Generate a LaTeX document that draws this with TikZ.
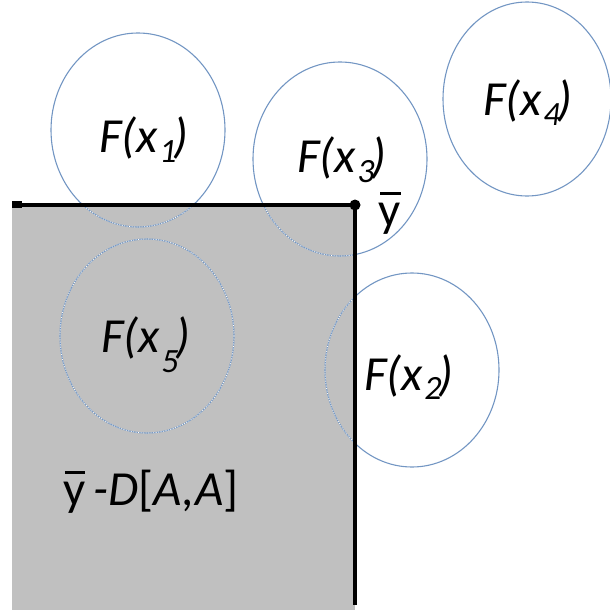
\documentclass[tikz,border=0pt]{standalone}
\usepackage{fontspec}
\setmainfont{Carlito}
\usetikzlibrary{shapes.geometric}
\definecolor{rgray}{RGB}{192,192,192}
\definecolor{cblue}{RGB}{115,150,195}
\newcommand{\Fx}[2][-0.2em]{\textit{F(x\kern0.03em\raisebox{#1}{\fontsize{34}{36}\selectfont #2}\kern-0.06em)}}
\newcommand{\ybar}{\makebox[0pt][l]{\kern0.03em\raisebox{0.64em}{\rule{0.42em}{0.065em}}}y}
\begin{document}
\begin{tikzpicture}[x=1pt,y=-1pt,
  ell/.style={ellipse, draw=cblue, line width=1.1pt, minimum width=174pt, minimum height=194pt, inner sep=0pt},
  lbl/.style={font=\fontsize{49}{52}\selectfont, inner sep=0pt},
  edgeline/.style={line width=3.5pt, black}]
\useasboundingbox (0,0) rectangle (610,610);
\fill[rgray] (12,205) rectangle (355,610);
\node[ell] (e1) at (138,130) {};
\node[ell] (e3) at (340,159) {};
\node[ell, minimum width=168pt] (e4) at (527,99) {};
\node[ell] (e5) at (147,336) {};
\node[ell] (e2) at (412,370) {};
\begin{scope}
  \clip (12,205) rectangle (355,610);
  \foreach \c in {e1,e3,e5,e2}{
    \draw[white, line width=0.7pt, dash pattern=on 1pt off 1.5pt] (\c.center) ellipse [x radius=87, y radius=97];
  }
\end{scope}
\node[lbl] (t1) at (144,140) {\Fx{1}};
\node[lbl] (t3) at (342,160) {\Fx{3}};
\node[lbl] (t4) at (528,103) {\Fx{4}};
\node[lbl] (t5) at (146,345) {\Fx[-0.4em]{5}};
\node[lbl] (t2) at (409,377) {\Fx{2}};
\coordinate (tl) at (12,205);
\coordinate (tr) at (355,205);
\coordinate (br) at (355,605);
\draw[edgeline] (tl) -- (tr) -- (br);
\fill[black] (12,201) rectangle (22,208);
\node[circle, fill=black, inner sep=0pt, minimum size=11pt] (dot) at (tr) {};
\node[lbl, anchor=center] (yb) at (390,213) {\ybar};
\node[lbl] (dl) at (151,492) {\ybar\,\textit{-D}[\textit{A,A}]};
\end{tikzpicture}
\end{document}
